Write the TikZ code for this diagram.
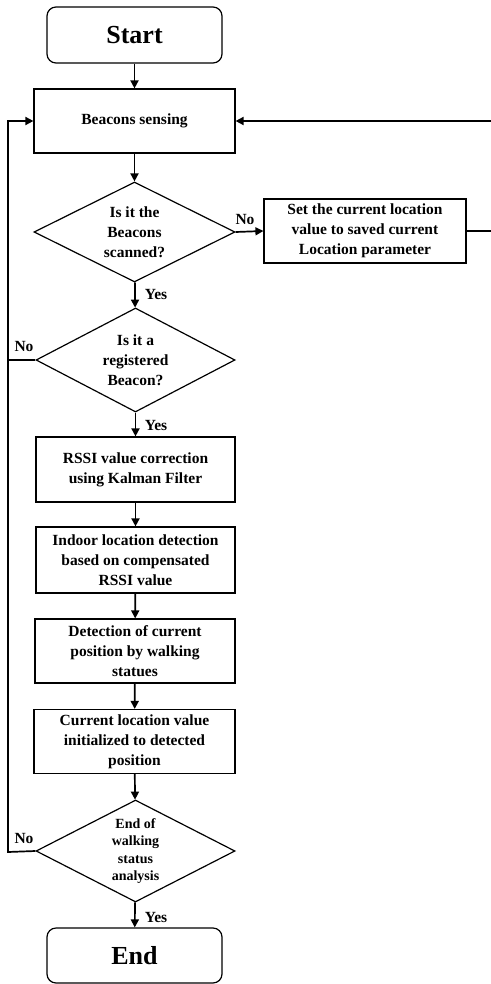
\documentclass[tikz,border=0pt]{standalone}
\usepackage{fontspec}
\setmainfont{Liberation Serif}
\usetikzlibrary{shapes.geometric,arrows.meta}
\tikzset{
  boxnode/.style={draw, line width=1.2pt, rectangle, inner sep=0pt, align=center,
    font=\bfseries\fontsize{15.5}{20}\selectfont},
  termnode/.style={draw, line width=1.2pt, rectangle, rounded corners=9pt, inner sep=0pt,
    minimum width=175pt, minimum height=56pt, font=\bfseries\fontsize{26}{30}\selectfont},
  decnode/.style={draw, line width=1.2pt, diamond, inner sep=0pt, aspect=2, align=center,
    font=\bfseries\fontsize{15.5}{20}\selectfont},
  conn/.style={line width=1.7pt, -{Triangle[length=8pt,width=8pt]}},
  plainconn/.style={line width=1.7pt},
  lbl/.style={font=\bfseries\fontsize{15.5}{18}\selectfont, inner sep=0pt}
}
\begin{document}
\begin{tikzpicture}[x=1pt,y=-1pt]
\useasboundingbox (0,0) rectangle (490,984);
\node[termnode] (start) at (134.5,35) {Start};
\node[boxnode, minimum width=201pt, minimum height=64pt] (sense) at (134.5,121) {Beacons sensing};
\node[decnode, minimum width=201pt, minimum height=100pt] (d1) at (134.5,232) {Is it the\\Beacons\\scanned?};
\node[boxnode, minimum width=202pt, minimum height=64pt] (setloc) at (365,231) {Set the current location\\value to saved current\\Location parameter};
\node[decnode, minimum width=199pt, minimum height=104pt] (d2) at (135.5,360) {Is it a\\registered\\Beacon?};
\node[boxnode, minimum width=199pt, minimum height=65pt] (rssi) at (135.5,469.5) {RSSI value correction\\using Kalman Filter};
\node[boxnode, minimum width=199pt, minimum height=66pt] (indoor) at (135.5,560) {Indoor location detection\\based on compensated\\RSSI value};
\node[boxnode, minimum width=200pt, minimum height=64pt] (detect) at (135,651) {Detection of current\\position by walking\\statues};
\node[boxnode, minimum width=201pt, minimum height=64pt] (curr) at (134.5,741.5) {Current location value\\initialized to detected\\position};
\node[decnode, minimum width=199pt, minimum height=102pt, font=\bfseries\fontsize{14}{17.5}\selectfont] (d3) at (135.5,851) {End of\\walking\\status\\analysis};
\node[termnode, minimum height=55pt] (endn) at (134.5,955.5) {End};

\coordinate (lt) at (8,121);
\coordinate (l2) at (8,360);
\coordinate (l3) at (8,852);
\coordinate (rt) at (493,121);
\coordinate (r2) at (493,231);

\draw[conn] (start) -- (sense);
\draw[conn] (sense) -- (d1);
\draw[conn] (d1.east) -- (setloc.west);
\draw[plainconn] (setloc.east) -- (r2) -- (rt);
\draw[conn] (rt) -- (sense.east);
\draw[conn] (d1) -- (d2);
\draw[conn] (d2) -- (rssi);
\draw[conn] (rssi) -- (indoor);
\draw[conn] (indoor) -- (detect);
\draw[conn] (detect) -- (curr);
\draw[conn] (curr) -- (d3);
\draw[conn] (d3) -- (endn);
\draw[plainconn] (d2.west) -- (l2);
\draw[conn] (d3.west) -- (l3) -- (lt) -- (sense.west);

\node[lbl] (no1) at (245,220) {No};
\node[lbl] (yes1) at (156,295) {Yes};
\node[lbl] (no2) at (24,346) {No};
\node[lbl] (yes2) at (156,425) {Yes};
\node[lbl] (no3) at (24,838) {No};
\node[lbl] (yes3) at (156,917) {Yes};
\end{tikzpicture}
\end{document}
